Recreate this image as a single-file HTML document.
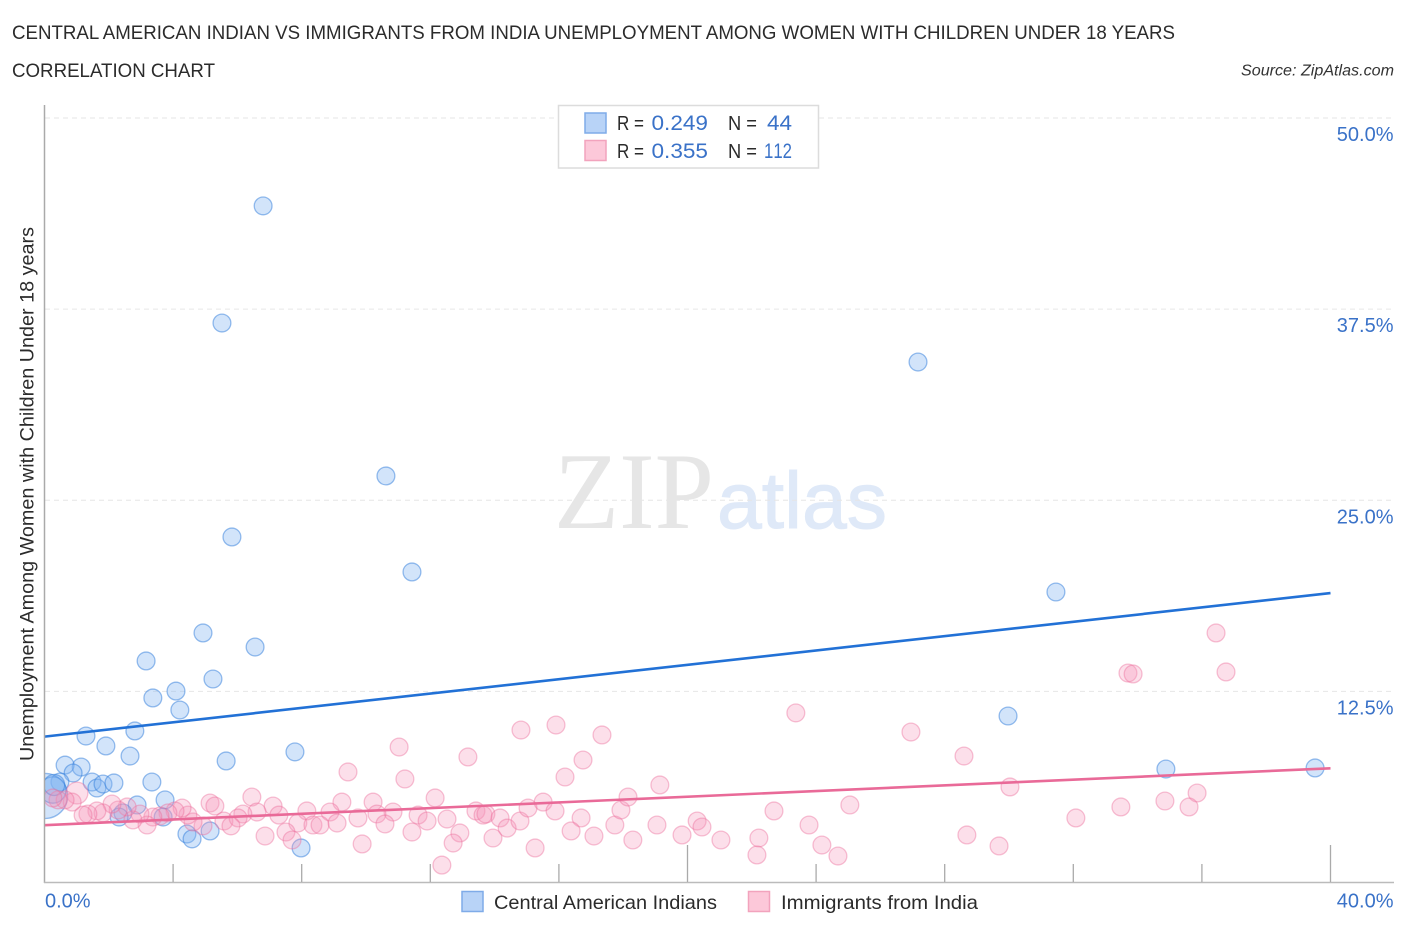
<!DOCTYPE html>
<html lang="en">
<head>
<meta charset="utf-8">
<title>Central American Indian vs Immigrants from India Correlation Chart</title>
<style>
html,body{margin:0;padding:0;background:#fff;width:1406px;height:930px;overflow:hidden}
svg{display:block}
text{font-family:"Liberation Sans",sans-serif}
</style>
</head>
<body>
<svg id="chart" width="1406" height="930" viewBox="0 0 1406 930" xmlns="http://www.w3.org/2000/svg">
<defs><clipPath id="plot-clip"><rect x="45" y="100" width="1349" height="782"/></clipPath></defs>
<rect x="0" y="0" width="1406" height="930" fill="#fff"/>
<text x="12" y="39" font-size="19.5" fill="#2b2b2b" textLength="1163" lengthAdjust="spacingAndGlyphs">CENTRAL AMERICAN INDIAN VS IMMIGRANTS FROM INDIA UNEMPLOYMENT AMONG WOMEN WITH CHILDREN UNDER 18 YEARS</text>
<text x="12" y="77" font-size="19.5" fill="#2b2b2b" textLength="203" lengthAdjust="spacingAndGlyphs">CORRELATION CHART</text>
<text x="1241" y="75.5" font-size="15.5" font-style="italic" fill="#333" textLength="153" lengthAdjust="spacingAndGlyphs">Source: ZipAtlas.com</text>
<g>
<text x="554" y="528" font-size="109" style="font-family:'Liberation Serif',serif" fill="#e6e6e6" textLength="160" lengthAdjust="spacingAndGlyphs">ZIP</text>
<text x="717" y="528" font-size="80" fill="#dfe9f8" stroke="#dfe9f8" stroke-width="1" textLength="170" lengthAdjust="spacingAndGlyphs">atlas</text>
</g>
<g id="grid"></g>
<g id="points" clip-path="url(#plot-clip)"></g>
<g id="trends"></g>
<g id="axes"></g>
<text transform="translate(33.5,494) rotate(-90)" text-anchor="middle" font-size="19" fill="#2b2b2b" textLength="534" lengthAdjust="spacingAndGlyphs">Unemployment Among Women with Children Under 18 years</text>
<g>
<rect x="558.5" y="105.5" width="260" height="62.5" fill="#fff" stroke="#dcdcdc" stroke-width="1.5"/>
<rect x="585" y="113" width="21" height="20" fill="#b8d3f7" stroke="#7fabe8" stroke-width="1.5"/>
<rect x="585" y="140.5" width="21" height="20" fill="#fcc8d9" stroke="#f2a3bd" stroke-width="1.5"/>
<text x="617" y="130" font-size="20" fill="#2b2b2b" textLength="27" lengthAdjust="spacingAndGlyphs">R =</text>
<text x="651.5" y="130" font-size="21" fill="#3a72c8" textLength="56.5" lengthAdjust="spacingAndGlyphs">0.249</text>
<text x="728" y="130" font-size="20" fill="#2b2b2b" textLength="29" lengthAdjust="spacingAndGlyphs">N =</text>
<text x="767" y="130" font-size="21" fill="#3a72c8" textLength="25" lengthAdjust="spacingAndGlyphs">44</text>
<text x="617" y="158" font-size="20" fill="#2b2b2b" textLength="27" lengthAdjust="spacingAndGlyphs">R =</text>
<text x="651.5" y="158" font-size="21" fill="#3a72c8" textLength="56.5" lengthAdjust="spacingAndGlyphs">0.355</text>
<text x="728" y="158" font-size="20" fill="#2b2b2b" textLength="29" lengthAdjust="spacingAndGlyphs">N =</text>
<text x="764" y="158" font-size="21" fill="#3a72c8" textLength="28" lengthAdjust="spacingAndGlyphs" style="font-kerning:none">112</text>
</g>
<g>
<rect x="462" y="891.5" width="21" height="20" fill="#b8d3f7" stroke="#7fabe8" stroke-width="1.5"/>
<text x="494" y="909" font-size="19.5" fill="#2b2b2b" textLength="223" lengthAdjust="spacingAndGlyphs">Central American Indians</text>
<rect x="748.5" y="891.5" width="21" height="20" fill="#fcc8d9" stroke="#f2a3bd" stroke-width="1.5"/>
<text x="781" y="909" font-size="19.5" fill="#2b2b2b" textLength="197" lengthAdjust="spacingAndGlyphs">Immigrants from India</text>
</g>
</svg>
<script>
const blueX = [6.80,5.52,27.17,10.62,5.83,11.43,31.46,4.93,6.55,3.16,5.24,4.09,3.37,4.21,29.97,2.81,1.29,1.91,7.79,2.66,5.65,1.14,0.64,34.88,39.52,0.89,0.48,1.48,1.63,1.82,2.16,3.34,3.75,2.88,2.44,2.32,3.69,4.43,4.59,5.15,7.98,0.02,0.26,0.30];
const blueY = [44.25,36.59,34.04,26.59,22.60,20.31,19.00,16.32,15.40,14.49,13.31,12.52,12.07,11.28,10.89,9.91,9.58,8.93,8.54,8.27,7.95,7.55,7.68,7.42,7.49,7.16,6.57,6.57,6.18,6.44,6.51,6.57,5.40,5.07,4.55,4.28,4.28,3.17,2.85,3.37,2.26,5.66,6.05,6.38];
const blueWeight = [1,1,1,1,1,1,1,1,1,1,1,1,1,1,1,1,1,1,1,1,1,1,1,1,1,1,1,1,1,1,1,1,1,1,1,1,1,1,1,1,1,6.4,2.2,1.4];
const pinkX = [36.44,33.70,33.86,36.75,26.95,28.60,30.03,33.48,34.85,35.85,35.60,32.08,28.69,29.69,11.03,11.21,12.15,11.62,11.90,11.43,12.52,12.92,12.71,12.36,13.17,13.42,13.64,13.73,14.17,14.39,13.95,14.79,15.04,14.82,15.26,15.51,15.88,15.91,16.19,16.75,16.69,16.38,17.09,17.34,17.74,17.93,18.15,18.30,19.14,19.05,19.83,20.30,20.45,21.04,23.37,22.69,22.22,22.16,23.78,24.18,24.68,25.05,9.44,6.45,5.15,5.30,7.11,9.25,10.22,8.16,8.88,10.84,6.61,6.17,7.29,9.75,10.34,5.58,6.02,5.80,7.88,8.35,8.57,9.10,10.59,7.51,6.86,7.70,9.88,4.93,4.62,4.46,4.28,4.06,3.84,3.59,3.37,3.19,2.97,2.75,2.57,2.29,2.10,1.82,1.63,1.35,1.20,1.01,0.86,0.64,0.42,0.26];
const pinkY = [16.32,13.70,13.64,13.77,9.84,8.27,6.25,4.94,5.33,5.85,4.94,4.22,3.11,2.39,8.86,6.77,5.53,4.41,4.02,3.30,4.15,3.24,2.58,1.14,8.21,4.68,4.41,4.48,4.22,3.56,2.91,4.02,4.87,9.97,2.26,5.26,4.68,10.30,6.90,8.01,4.22,3.37,3.04,9.65,3.76,4.74,5.59,2.78,6.38,3.76,3.11,4.02,3.63,2.78,11.09,4.68,2.91,1.80,3.76,2.45,1.73,5.07,7.23,5.59,5.20,5.00,5.00,5.26,5.26,4.68,4.61,4.61,4.61,4.48,4.41,4.22,4.48,4.02,4.22,3.70,3.89,3.76,3.76,3.89,3.83,3.30,3.04,2.78,2.52,3.70,3.96,4.41,4.87,4.68,4.55,4.35,4.28,3.76,4.48,4.09,4.94,4.74,5.13,4.55,4.68,4.48,4.41,5.85,5.26,5.40,5.40,5.53];
const pinkWeight = [1,1,1,1,1,1,1,1,1,1,1,1,1,1,1,1,1,1,1,1,1,1,1,1,1,1,1,1,1,1,1,1,1,1,1,1,1,1,1,1,1,1,1,1,1,1,1,1,1,1,1,1,1,1,1,1,1,1,1,1,1,1,1,1,1,1,1,1,1,1,1,1,1,1,1,1,1,1,1,1,1,1,1,1,1,1,1,1,1,1,1,1,1,1,1,1,1,1,1,1,1,1,1,1,1,1,1,1.5,1,1,1,1];
const blueTrend = [9.54,18.93];
const pinkTrend = [3.75,7.47];
const trendDomainX = [0,40];
const yTicks = [12.5,25,37.5,50];
const yTickLabels = ["12.5%","25.0%","37.5%","50.0%"];
const xTicks = [0,4,8,12,16,20,24,28,32,36,40];
const xMajorTicks = [20,40];
const xEndLabels = [0,40];
const xEndLabelText = ["0.0%","40.0%"];

const NS = 'http://www.w3.org/2000/svg';
const xScale = v => 44.5 + v * 1286 / 40;
const yScale = v => 882.5 - v * 15.29;
const radius = w => 8.9 * Math.sqrt(w);
function make(tag, attrs, parent) {
  const el = document.createElementNS(NS, tag);
  for (const k in attrs) el.setAttribute(k, attrs[k]);
  parent.appendChild(el);
  return el;
}
const grid = document.getElementById('grid');
const pts = document.getElementById('points');
const trends = document.getElementById('trends');
const axes = document.getElementById('axes');

yTicks.forEach((t, i) => {
  const g = make('line', {x1: 45, x2: 1393, y1: yScale(t), y2: yScale(t), stroke: '#e6e6e6', 'stroke-width': 1, 'stroke-dasharray': '5 4'}, grid);
  
  
  const l = make('text', {x: 1393.5, y: yScale(t) + 23, 'text-anchor': 'end', 'font-size': 20, fill: '#3a72c8'}, axes);
  l.textContent = yTickLabels[i];
  
  
});

function drawSeries(xs, ys, ws, fill, stroke, name) {
  xs.forEach((x, i) => {
    const c = make('circle', {cx: xScale(x), cy: yScale(ys[i]), r: radius(ws[i]), fill: fill, stroke: stroke, 'stroke-width': 1.3}, pts);
    
    
  });
}
drawSeries(blueX, blueY, blueWeight, 'rgba(130,180,240,0.36)', 'rgba(50,125,220,0.5)', 'central-american-indians-point');
drawSeries(pinkX, pinkY, pinkWeight, 'rgba(245,150,185,0.3)', 'rgba(235,110,155,0.42)', 'immigrants-from-india-point');

const tb = make('line', {x1: xScale(trendDomainX[0]), x2: xScale(trendDomainX[1]), y1: yScale(blueTrend[0]), y2: yScale(blueTrend[1]), stroke: '#2271d6', 'stroke-width': 2.6}, trends);


const tp = make('line', {x1: xScale(trendDomainX[0]), x2: xScale(trendDomainX[1]), y1: yScale(pinkTrend[0]), y2: yScale(pinkTrend[1]), stroke: '#e96a98', 'stroke-width': 2.6}, trends);



const ya = make('line', {x1: 44.5, x2: 44.5, y1: 105, y2: 883, stroke: '#aaa', 'stroke-width': 1.5}, axes);


const xa = make('line', {x1: 44, x2: 1394, y1: 882.5, y2: 882.5, stroke: '#bbb', 'stroke-width': 1.5}, axes);


xTicks.slice(1).forEach(t => {
  const top = xMajorTicks.includes(t) ? 845 : 864;
  const m = make('line', {x1: xScale(t), x2: xScale(t), y1: top, y2: 882, stroke: '#aaa', 'stroke-width': 1.3}, axes);
  
  
});
xEndLabels.forEach((t, i) => {
  const first = i === 0;
  const l = make('text', {x: first ? 45 : 1393.5, y: 907.5, 'text-anchor': first ? 'start' : 'end', 'font-size': 20, fill: '#3a72c8'}, axes);
  l.textContent = xEndLabelText[i];
  
  
});
</script>
</body>
</html>
